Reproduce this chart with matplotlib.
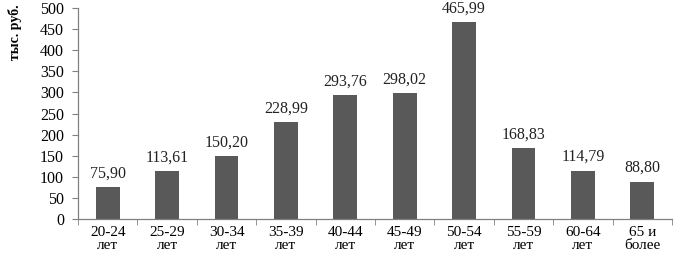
import matplotlib.pyplot as plt
import numpy as np

categories = ["20-24\nлет", "25-29\nлет", "30-34\nлет", "35-39\nлет", "40-44\nлет",
              "45-49\nлет", "50-54\nлет", "55-59\nлет", "60-64\nлет", "65 и\nболее"]
values = [75.90, 113.61, 150.20, 228.99, 293.76, 298.02, 465.99, 168.83, 114.79, 88.80]
value_labels = ["75,90", "113,61", "150,20", "228,99", "293,76",
                "298,02", "465,99", "168,83", "114,79", "88,80"]

plt.rcParams["font.family"] = ["Liberation Serif", "DejaVu Serif"]

fig = plt.figure(figsize=(6.77, 2.59), dpi=100)
ax = fig.add_axes([0.1152, 0.154, 0.8775, 0.815])

x = np.arange(len(values))
ax.bar(x, values, width=0.4, color="#595959", zorder=2)

for xi, v, lab in zip(x, values, value_labels):
    ax.annotate(lab, (xi, v), xytext=(0, 4), textcoords="offset points",
                ha="center", va="bottom", fontsize=11.5, color="#222222")

ax.set_xlim(-0.5, len(values) - 0.5)
ax.set_ylim(0, 500)
ax.set_yticks(np.arange(0, 501, 50))
ax.set_xticks(x)
ax.set_xticklabels(categories, fontsize=11, linespacing=1.0)
ax.set_xticks(np.arange(-0.5, len(values), 1), minor=True)
ax.tick_params(axis="x", which="major", length=0, pad=5)
ax.tick_params(axis="x", which="minor", length=4, color="#808080", direction="out")
ax.tick_params(axis="y", length=4, color="#808080", direction="out", labelsize=11.5, pad=6)

for side in ("top", "right"):
    ax.spines[side].set_visible(False)
for side in ("left", "bottom"):
    ax.spines[side].set_color("#808080")
    ax.spines[side].set_linewidth(0.9)

fig.text(0.022, 0.985, "тыс. руб.", rotation=90, ha="center", va="top",
         fontsize=10, fontweight="bold")

fig.savefig("out.png", dpi=100)
